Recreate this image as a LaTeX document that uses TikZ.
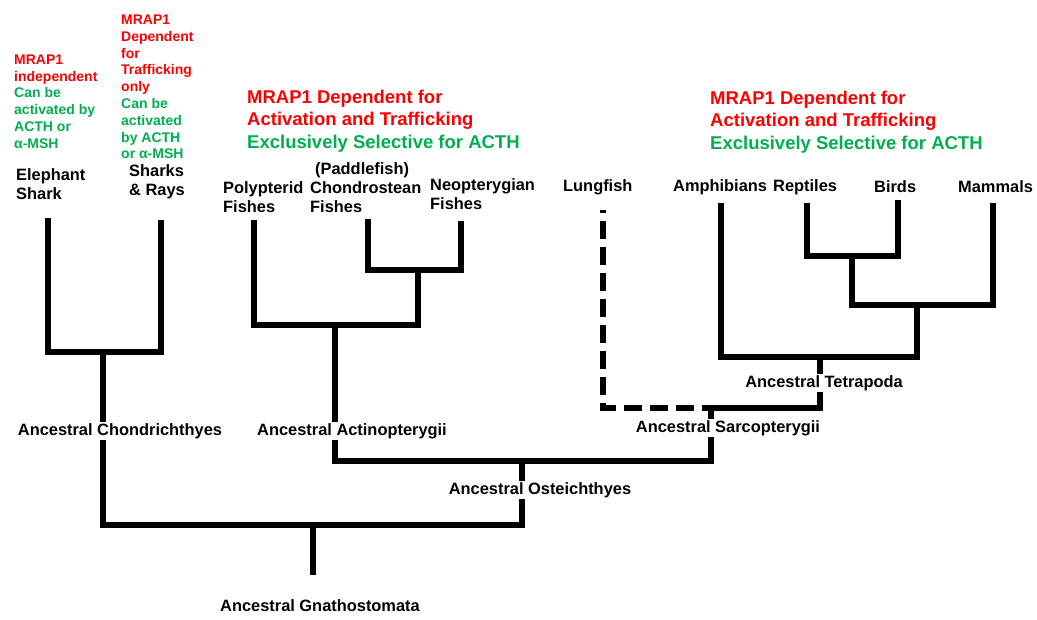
\documentclass[tikz,border=0pt]{standalone}
\usepackage{fontspec}
\setmainfont{Liberation Sans}
\definecolor{mred}{RGB}{255,0,0}
\definecolor{mgreen}{RGB}{0,176,80}
\begin{document}
\begin{tikzpicture}[x=1pt,y=-1pt,
  branch/.style={line width=6.5pt, line join=miter, line cap=butt},
  dashbranch/.style={branch, dash pattern=on 18pt off 8pt, dash phase=15pt},
  leaf/.style={font=\fontsize{16.4}{19}\selectfont\bfseries, align=left, anchor=west, inner sep=0pt},
  anc/.style={font=\fontsize{16.4}{19}\selectfont\bfseries, fill=white, inner sep=1pt},
  note/.style={font=\fontsize{14}{16.8}\selectfont\bfseries, align=left, anchor=west, inner sep=0pt},
  head/.style={font=\fontsize{18.5}{22.5}\selectfont\bfseries, align=left, anchor=west, inner sep=0pt}]
\useasboundingbox[fill=white] (0,0) rectangle (1037,619);

% ---- annotations ----
\node[note] (n1) at (14,101.5) {\color{mred}MRAP1\\\color{mred}independent\\\color{mgreen}Can be\\\color{mgreen}activated by\\\color{mgreen}ACTH or\\\color{mgreen}α-MSH};
\node[note] (n2) at (121,87) {\color{mred}MRAP1\\\color{mred}Dependent\\\color{mred}for\\\color{mred}Trafficking\\\color{mred}only\\\color{mgreen}Can be\\\color{mgreen}activated\\\color{mgreen}by ACTH\\\color{mgreen}or α-MSH};
\node[head] (h1) at (247,121) {\color{mred}MRAP1 Dependent for\\\color{mred}Activation and Trafficking\\\color{mgreen}Exclusively Selective for ACTH};
\node[head] (h2) at (710,122) {\color{mred}MRAP1 Dependent for\\\color{mred}Activation and Trafficking\\\color{mgreen}Exclusively Selective for ACTH};

% ---- leaves ----
\node[leaf] (eleph) at (16,184) {Elephant\\Shark};
\node[leaf] (shark) at (129,181.5) {Sharks\\\& Rays};
\node[leaf] (poly) at (223,197.5) {Polypterid\\Fishes};
\node[leaf] (chond) at (310,188) {\hspace{5pt}(Paddlefish)\\Chondrostean\\Fishes};
\node[leaf] (neo) at (430,194) {Neopterygian\\Fishes};
\node[leaf] (lung) at (563,187) {Lungfish};
\node[leaf] (amph) at (673,187) {Amphibians};
\node[leaf] (rept) at (773,187) {Reptiles};
\node[leaf] (bird) at (874,187) {Birds};
\node[leaf] (mamm) at (958,187) {Mammals};

% ---- branch points ----
\coordinate (eTop) at (48,218);
\coordinate (sTop) at (161,220);
\coordinate (chJ) at (103,352);
\coordinate (gnJ) at (313,525);
\coordinate (gnEnd) at (313,575);
\coordinate (ostJ) at (522,461);
\coordinate (actJ) at (335,325);
\coordinate (polyTop) at (254,220);
\coordinate (cnJ) at (418,270);
\coordinate (chondTop) at (368,219);
\coordinate (neoTop) at (461,221);
\coordinate (sarJ) at (711,408);
\coordinate (lungTop) at (603,210);
\coordinate (tetJ) at (820,357);
\coordinate (amphTop) at (721,203);
\coordinate (amnJ) at (917,305);
\coordinate (sauJ) at (852,256);
\coordinate (mamTop) at (993,203);
\coordinate (repTop) at (807,203);
\coordinate (birdTop) at (898,200);

% ---- tree ----
\draw[branch] (eTop) -- (eTop |- chJ) -- (sTop |- chJ) -- (sTop);
\draw[branch] (chJ) -- (chJ |- gnJ) -- (ostJ |- gnJ) -- (ostJ);
\draw[branch] (gnJ) -- (gnEnd);
\draw[branch] (actJ) -- (actJ |- ostJ) -- (sarJ |- ostJ) -- (sarJ);
\draw[branch] (polyTop) -- (polyTop |- actJ) -- (cnJ |- actJ) -- (cnJ);
\draw[branch] (chondTop) -- (chondTop |- cnJ) -- (neoTop |- cnJ) -- (neoTop);
\draw[dashbranch] (lungTop) -- (lungTop |- sarJ) -- (sarJ);
\draw[branch] (sarJ) -- (tetJ |- sarJ) -- (tetJ);
\draw[branch] (amphTop) -- (amphTop |- tetJ) -- (amnJ |- tetJ) -- (amnJ);
\draw[branch] (sauJ) -- (sauJ |- amnJ) -- (mamTop |- amnJ) -- (mamTop);
\draw[branch] (repTop) -- (repTop |- sauJ) -- (birdTop |- sauJ) -- (birdTop);

% ---- ancestral labels ----
\node[anc] (aChon) at (120,431) {Ancestral Chondrichthyes};
\node[anc] (aAct) at (352,431) {Ancestral Actinopterygii};
\node[anc] (aOst) at (540,490) {Ancestral Osteichthyes};
\node[anc] (aSar) at (728,428) {Ancestral Sarcopterygii};
\node[anc] (aTet) at (824,383) {Ancestral Tetrapoda};
\node[anc] (aGna) at (320,606) {Ancestral Gnathostomata};
\end{tikzpicture}
\end{document}
